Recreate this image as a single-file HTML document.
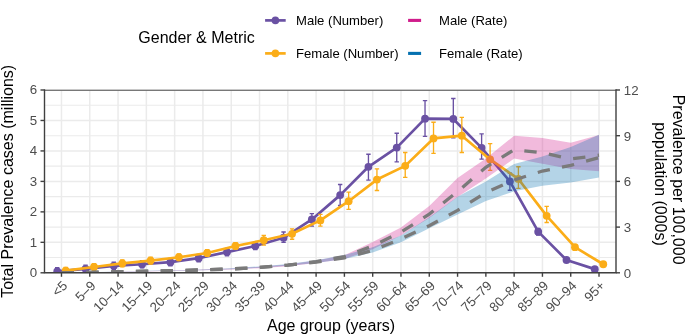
<!DOCTYPE html>
<html><head><meta charset="utf-8"><style>
html,body{margin:0;padding:0;background:#fff;width:685px;height:334px;overflow:hidden}
svg{will-change:transform}
body{position:relative;font-family:"Liberation Sans",sans-serif}
.tk{font-family:"Liberation Sans",sans-serif;font-size:13.3px;fill:#4d4d4d}
.ti{font-family:"Liberation Sans",sans-serif;font-size:16px;fill:#000}
.lg{font-family:"Liberation Sans",sans-serif;font-size:13.1px;fill:#000}
</style></head><body>
<svg width="685" height="334" viewBox="0 0 685 334" style="position:absolute;left:0;top:0">
<defs><clipPath id="pc"><rect x="44.50" y="90.00" width="571.50" height="182.80"/></clipPath></defs>
<g><line x1="44.5" x2="616.0" y1="272.80" y2="272.80" stroke="#ebebeb" stroke-width="1.5"/><line x1="44.5" x2="616.0" y1="257.57" y2="257.57" stroke="#ebebeb" stroke-width="1.1"/><line x1="44.5" x2="616.0" y1="242.33" y2="242.33" stroke="#ebebeb" stroke-width="1.5"/><line x1="44.5" x2="616.0" y1="227.10" y2="227.10" stroke="#ebebeb" stroke-width="1.1"/><line x1="44.5" x2="616.0" y1="211.87" y2="211.87" stroke="#ebebeb" stroke-width="1.5"/><line x1="44.5" x2="616.0" y1="196.63" y2="196.63" stroke="#ebebeb" stroke-width="1.1"/><line x1="44.5" x2="616.0" y1="181.40" y2="181.40" stroke="#ebebeb" stroke-width="1.5"/><line x1="44.5" x2="616.0" y1="166.17" y2="166.17" stroke="#ebebeb" stroke-width="1.1"/><line x1="44.5" x2="616.0" y1="150.93" y2="150.93" stroke="#ebebeb" stroke-width="1.5"/><line x1="44.5" x2="616.0" y1="135.70" y2="135.70" stroke="#ebebeb" stroke-width="1.1"/><line x1="44.5" x2="616.0" y1="120.47" y2="120.47" stroke="#ebebeb" stroke-width="1.5"/><line x1="44.5" x2="616.0" y1="105.23" y2="105.23" stroke="#ebebeb" stroke-width="1.1"/><line x1="44.5" x2="616.0" y1="90.00" y2="90.00" stroke="#ebebeb" stroke-width="1.5"/><line x1="61.48" x2="61.48" y1="90.0" y2="272.8" stroke="#ebebeb" stroke-width="1.5"/><line x1="89.77" x2="89.77" y1="90.0" y2="272.8" stroke="#ebebeb" stroke-width="1.5"/><line x1="118.06" x2="118.06" y1="90.0" y2="272.8" stroke="#ebebeb" stroke-width="1.5"/><line x1="146.35" x2="146.35" y1="90.0" y2="272.8" stroke="#ebebeb" stroke-width="1.5"/><line x1="174.64" x2="174.64" y1="90.0" y2="272.8" stroke="#ebebeb" stroke-width="1.5"/><line x1="202.94" x2="202.94" y1="90.0" y2="272.8" stroke="#ebebeb" stroke-width="1.5"/><line x1="231.23" x2="231.23" y1="90.0" y2="272.8" stroke="#ebebeb" stroke-width="1.5"/><line x1="259.52" x2="259.52" y1="90.0" y2="272.8" stroke="#ebebeb" stroke-width="1.5"/><line x1="287.81" x2="287.81" y1="90.0" y2="272.8" stroke="#ebebeb" stroke-width="1.5"/><line x1="316.10" x2="316.10" y1="90.0" y2="272.8" stroke="#ebebeb" stroke-width="1.5"/><line x1="344.40" x2="344.40" y1="90.0" y2="272.8" stroke="#ebebeb" stroke-width="1.5"/><line x1="372.69" x2="372.69" y1="90.0" y2="272.8" stroke="#ebebeb" stroke-width="1.5"/><line x1="400.98" x2="400.98" y1="90.0" y2="272.8" stroke="#ebebeb" stroke-width="1.5"/><line x1="429.27" x2="429.27" y1="90.0" y2="272.8" stroke="#ebebeb" stroke-width="1.5"/><line x1="457.56" x2="457.56" y1="90.0" y2="272.8" stroke="#ebebeb" stroke-width="1.5"/><line x1="485.86" x2="485.86" y1="90.0" y2="272.8" stroke="#ebebeb" stroke-width="1.5"/><line x1="514.15" x2="514.15" y1="90.0" y2="272.8" stroke="#ebebeb" stroke-width="1.5"/><line x1="542.44" x2="542.44" y1="90.0" y2="272.8" stroke="#ebebeb" stroke-width="1.5"/><line x1="570.73" x2="570.73" y1="90.0" y2="272.8" stroke="#ebebeb" stroke-width="1.5"/><line x1="599.02" x2="599.02" y1="90.0" y2="272.8" stroke="#ebebeb" stroke-width="1.5"/></g>
<g clip-path="url(#pc)"><polyline points="57.23,271.43 85.52,268.84 113.82,265.79 142.11,264.27 170.40,262.14 198.69,258.18 226.98,252.08 255.28,245.99 283.57,237.76 311.86,219.48 340.15,195.11 368.44,166.78 396.74,147.58 425.03,118.64 453.32,118.94 481.61,147.89 509.90,181.40 538.20,231.67 566.49,260.00 594.78,269.14" fill="none" stroke="#6a51a3" stroke-width="2.7" stroke-linejoin="round"/><path d="M55.03,267.77H59.43M57.23,267.77V275.09M55.03,275.09H59.43" stroke="#6a51a3" stroke-width="1.35" fill="none"/><path d="M83.32,265.18H87.72M85.52,265.18V272.50M83.32,272.50H87.72" stroke="#6a51a3" stroke-width="1.35" fill="none"/><path d="M111.62,262.14H116.02M113.82,262.14V269.45M111.62,269.45H116.02" stroke="#6a51a3" stroke-width="1.35" fill="none"/><path d="M139.91,260.61H144.31M142.11,260.61V267.93M139.91,267.93H144.31" stroke="#6a51a3" stroke-width="1.35" fill="none"/><path d="M168.20,258.48H172.60M170.40,258.48V265.79M168.20,265.79H172.60" stroke="#6a51a3" stroke-width="1.35" fill="none"/><path d="M196.49,254.52H200.89M198.69,254.52V261.83M196.49,261.83H200.89" stroke="#6a51a3" stroke-width="1.35" fill="none"/><path d="M224.78,248.43H229.18M226.98,248.43V255.74M224.78,255.74H229.18" stroke="#6a51a3" stroke-width="1.35" fill="none"/><path d="M253.08,242.33H257.48M255.28,242.33V249.65M253.08,249.65H257.48" stroke="#6a51a3" stroke-width="1.35" fill="none"/><path d="M281.37,231.97H285.77M283.57,231.97V242.33M281.37,242.33H285.77" stroke="#6a51a3" stroke-width="1.35" fill="none"/><path d="M309.66,213.69H314.06M311.86,213.69V226.19M309.66,226.19H314.06" stroke="#6a51a3" stroke-width="1.35" fill="none"/><path d="M337.95,184.45H342.35M340.15,184.45V205.47M337.95,205.47H342.35" stroke="#6a51a3" stroke-width="1.35" fill="none"/><path d="M366.24,154.28H370.64M368.44,154.28V180.18M366.24,180.18H370.64" stroke="#6a51a3" stroke-width="1.35" fill="none"/><path d="M394.54,133.26H398.94M396.74,133.26V161.90M394.54,161.90H398.94" stroke="#6a51a3" stroke-width="1.35" fill="none"/><path d="M422.83,100.66H427.23M425.03,100.66V136.31M422.83,136.31H427.23" stroke="#6a51a3" stroke-width="1.35" fill="none"/><path d="M451.12,98.53H455.52M453.32,98.53V137.83M451.12,137.83H455.52" stroke="#6a51a3" stroke-width="1.35" fill="none"/><path d="M479.41,133.87H483.81M481.61,133.87V159.16M479.41,159.16H483.81" stroke="#6a51a3" stroke-width="1.35" fill="none"/><path d="M507.70,173.17H512.10M509.90,173.17V190.24M507.70,190.24H512.10" stroke="#6a51a3" stroke-width="1.35" fill="none"/><path d="M536.00,228.38H540.40M538.20,228.38V234.96M536.00,234.96H540.40" stroke="#6a51a3" stroke-width="1.35" fill="none"/><path d="M564.29,258.98H568.69M566.49,258.98V261.03M564.29,261.03H568.69" stroke="#6a51a3" stroke-width="1.35" fill="none"/><path d="M592.58,268.85H596.98M594.78,268.85V269.44M592.58,269.44H596.98" stroke="#6a51a3" stroke-width="1.35" fill="none"/><circle cx="57.23" cy="271.43" r="3.9" fill="#6a51a3"/><circle cx="85.52" cy="268.84" r="3.9" fill="#6a51a3"/><circle cx="113.82" cy="265.79" r="3.9" fill="#6a51a3"/><circle cx="142.11" cy="264.27" r="3.9" fill="#6a51a3"/><circle cx="170.40" cy="262.14" r="3.9" fill="#6a51a3"/><circle cx="198.69" cy="258.18" r="3.9" fill="#6a51a3"/><circle cx="226.98" cy="252.08" r="3.9" fill="#6a51a3"/><circle cx="255.28" cy="245.99" r="3.9" fill="#6a51a3"/><circle cx="283.57" cy="237.76" r="3.9" fill="#6a51a3"/><circle cx="311.86" cy="219.48" r="3.9" fill="#6a51a3"/><circle cx="340.15" cy="195.11" r="3.9" fill="#6a51a3"/><circle cx="368.44" cy="166.78" r="3.9" fill="#6a51a3"/><circle cx="396.74" cy="147.58" r="3.9" fill="#6a51a3"/><circle cx="425.03" cy="118.64" r="3.9" fill="#6a51a3"/><circle cx="453.32" cy="118.94" r="3.9" fill="#6a51a3"/><circle cx="481.61" cy="147.89" r="3.9" fill="#6a51a3"/><circle cx="509.90" cy="181.40" r="3.9" fill="#6a51a3"/><circle cx="538.20" cy="231.67" r="3.9" fill="#6a51a3"/><circle cx="566.49" cy="260.00" r="3.9" fill="#6a51a3"/><circle cx="594.78" cy="269.14" r="3.9" fill="#6a51a3"/><polyline points="65.72,270.67 94.01,267.01 122.30,263.36 150.60,260.61 178.89,257.26 207.18,253.00 235.47,245.99 263.76,240.20 292.06,233.80 320.35,220.40 348.64,201.20 376.93,179.57 405.22,165.86 433.52,138.44 461.81,135.70 490.10,159.46 518.39,178.96 546.68,215.83 574.98,247.21 603.27,264.27" fill="none" stroke="#fbad18" stroke-width="2.7" stroke-linejoin="round"/><path d="M63.52,267.32H67.92M65.72,267.32V274.02M63.52,274.02H67.92" stroke="#fbad18" stroke-width="1.35" fill="none"/><path d="M91.81,263.66H96.21M94.01,263.66V270.36M91.81,270.36H96.21" stroke="#fbad18" stroke-width="1.35" fill="none"/><path d="M120.10,260.00H124.50M122.30,260.00V266.71M120.10,266.71H124.50" stroke="#fbad18" stroke-width="1.35" fill="none"/><path d="M148.40,257.26H152.80M150.60,257.26V263.96M148.40,263.96H152.80" stroke="#fbad18" stroke-width="1.35" fill="none"/><path d="M176.69,253.91H181.09M178.89,253.91V260.61M176.69,260.61H181.09" stroke="#fbad18" stroke-width="1.35" fill="none"/><path d="M204.98,249.65H209.38M207.18,249.65V256.35M204.98,256.35H209.38" stroke="#fbad18" stroke-width="1.35" fill="none"/><path d="M233.27,242.64H237.67M235.47,242.64V249.34M233.27,249.34H237.67" stroke="#fbad18" stroke-width="1.35" fill="none"/><path d="M261.56,235.33H265.96M263.76,235.33V245.08M261.56,245.08H265.96" stroke="#fbad18" stroke-width="1.35" fill="none"/><path d="M289.86,228.93H294.26M292.06,228.93V239.29M289.86,239.29H294.26" stroke="#fbad18" stroke-width="1.35" fill="none"/><path d="M318.15,214.30H322.55M320.35,214.30V226.19M318.15,226.19H322.55" stroke="#fbad18" stroke-width="1.35" fill="none"/><path d="M346.44,192.06H350.84M348.64,192.06V209.43M346.44,209.43H350.84" stroke="#fbad18" stroke-width="1.35" fill="none"/><path d="M374.73,168.91H379.13M376.93,168.91V190.54M374.73,190.54H379.13" stroke="#fbad18" stroke-width="1.35" fill="none"/><path d="M403.02,152.46H407.42M405.22,152.46V177.44M403.02,177.44H407.42" stroke="#fbad18" stroke-width="1.35" fill="none"/><path d="M431.32,122.29H435.72M433.52,122.29V153.37M431.32,153.37H435.72" stroke="#fbad18" stroke-width="1.35" fill="none"/><path d="M459.61,117.42H464.01M461.81,117.42V152.46M459.61,152.46H464.01" stroke="#fbad18" stroke-width="1.35" fill="none"/><path d="M487.90,143.62H492.30M490.10,143.62V170.43M487.90,170.43H492.30" stroke="#fbad18" stroke-width="1.35" fill="none"/><path d="M516.19,166.78H520.59M518.39,166.78V188.41M516.19,188.41H520.59" stroke="#fbad18" stroke-width="1.35" fill="none"/><path d="M544.48,206.38H548.88M546.68,206.38V222.53M544.48,222.53H548.88" stroke="#fbad18" stroke-width="1.35" fill="none"/><path d="M572.78,245.16H577.18M574.98,245.16V249.26M572.78,249.26H577.18" stroke="#fbad18" stroke-width="1.35" fill="none"/><path d="M601.07,263.59H605.47M603.27,263.59V264.95M601.07,264.95H605.47" stroke="#fbad18" stroke-width="1.35" fill="none"/><circle cx="65.72" cy="270.67" r="3.9" fill="#fbad18"/><circle cx="94.01" cy="267.01" r="3.9" fill="#fbad18"/><circle cx="122.30" cy="263.36" r="3.9" fill="#fbad18"/><circle cx="150.60" cy="260.61" r="3.9" fill="#fbad18"/><circle cx="178.89" cy="257.26" r="3.9" fill="#fbad18"/><circle cx="207.18" cy="253.00" r="3.9" fill="#fbad18"/><circle cx="235.47" cy="245.99" r="3.9" fill="#fbad18"/><circle cx="263.76" cy="240.20" r="3.9" fill="#fbad18"/><circle cx="292.06" cy="233.80" r="3.9" fill="#fbad18"/><circle cx="320.35" cy="220.40" r="3.9" fill="#fbad18"/><circle cx="348.64" cy="201.20" r="3.9" fill="#fbad18"/><circle cx="376.93" cy="179.57" r="3.9" fill="#fbad18"/><circle cx="405.22" cy="165.86" r="3.9" fill="#fbad18"/><circle cx="433.52" cy="138.44" r="3.9" fill="#fbad18"/><circle cx="461.81" cy="135.70" r="3.9" fill="#fbad18"/><circle cx="490.10" cy="159.46" r="3.9" fill="#fbad18"/><circle cx="518.39" cy="178.96" r="3.9" fill="#fbad18"/><circle cx="546.68" cy="215.83" r="3.9" fill="#fbad18"/><circle cx="574.98" cy="247.21" r="3.9" fill="#fbad18"/><circle cx="603.27" cy="264.27" r="3.9" fill="#fbad18"/><polygon points="61.48,272.80 89.77,272.30 118.06,271.63 146.35,270.96 174.64,270.29 202.94,269.62 231.23,268.61 259.52,266.77 287.81,264.42 316.10,260.61 344.40,255.28 372.69,241.88 400.98,227.56 429.27,206.08 457.56,178.05 485.86,158.55 514.15,135.70 542.44,137.99 570.73,142.71 599.02,134.94 599.02,171.35 570.73,168.91 542.44,163.73 514.15,158.55 485.86,178.51 457.56,196.94 429.27,217.96 400.98,235.48 372.69,249.19 344.40,259.09 316.10,263.05 287.81,266.33 259.52,268.14 231.23,269.56 202.94,270.34 174.64,270.86 146.35,271.38 118.06,271.89 89.77,272.41 61.48,272.80" fill="#d01c8b" fill-opacity="0.3"/><polygon points="61.48,272.80 89.77,272.27 118.06,271.55 146.35,270.84 174.64,270.13 202.94,269.41 231.23,268.34 259.52,266.38 287.81,263.89 316.10,260.16 344.40,254.98 372.69,247.21 400.98,235.48 429.27,217.35 457.56,196.63 485.86,181.55 514.15,163.88 542.44,156.42 570.73,146.97 599.02,134.63 599.02,177.59 570.73,182.62 542.44,185.67 514.15,191.30 485.86,200.90 457.56,214.46 429.27,228.32 400.98,242.33 372.69,252.54 344.40,259.09 316.10,263.05 287.81,265.79 259.52,267.75 231.23,269.30 202.94,270.14 174.64,270.70 146.35,271.26 118.06,271.82 89.77,272.38 61.48,272.80" fill="#0571b0" fill-opacity="0.3"/><polyline points="61.48,272.80 89.77,272.34 118.06,271.73 146.35,271.12 174.64,270.51 202.94,269.91 231.23,268.99 259.52,267.32 287.81,265.18 316.10,261.53 344.40,256.50 372.69,245.99 400.98,232.13 429.27,214.15 457.56,191.61 485.86,167.23 514.15,149.71 542.44,152.76 570.73,159.01 599.02,155.20" fill="none" stroke="#7a7a7a" stroke-width="3.3" stroke-dasharray="12.4 12.4"/><polyline points="61.48,272.80 89.77,272.34 118.06,271.73 146.35,271.12 174.64,270.51 202.94,269.91 231.23,268.99 259.52,267.32 287.81,265.18 316.10,262.14 344.40,257.87 372.69,250.41 400.98,238.98 429.27,225.73 457.56,210.34 485.86,192.52 514.15,180.03 542.44,171.04 570.73,165.41 599.02,157.64" fill="none" stroke="#7a7a7a" stroke-width="3.3" stroke-dasharray="12.4 12.4"/></g>
<path d="M44.5,90.2H616.0" stroke="#505050" stroke-width="1.15" fill="none"/><path d="M44.5,89.3V272.8" stroke="#404040" stroke-width="1.4" fill="none"/><path d="M43.8,272.8H616.7" stroke="#404040" stroke-width="1.4" fill="none"/><path d="M616.0,89.3V272.8" stroke="#404040" stroke-width="1.4" fill="none"/><path d="M40.5,272.80H44.5" stroke="#404040" stroke-width="1.4"/><text x="37.20" y="277.25" text-anchor="end" class="tk">0</text><path d="M40.5,242.33H44.5" stroke="#404040" stroke-width="1.4"/><text x="37.20" y="246.78" text-anchor="end" class="tk">1</text><path d="M40.5,211.87H44.5" stroke="#404040" stroke-width="1.4"/><text x="37.20" y="216.32" text-anchor="end" class="tk">2</text><path d="M40.5,181.40H44.5" stroke="#404040" stroke-width="1.4"/><text x="37.20" y="185.85" text-anchor="end" class="tk">3</text><path d="M40.5,150.93H44.5" stroke="#404040" stroke-width="1.4"/><text x="37.20" y="155.38" text-anchor="end" class="tk">4</text><path d="M40.5,120.47H44.5" stroke="#404040" stroke-width="1.4"/><text x="37.20" y="124.92" text-anchor="end" class="tk">5</text><path d="M40.5,90.00H44.5" stroke="#404040" stroke-width="1.4"/><text x="37.20" y="94.45" text-anchor="end" class="tk">6</text><path d="M616.0,272.80H620.0" stroke="#404040" stroke-width="1.4"/><text x="623.80" y="277.80" class="tk">0</text><path d="M616.0,227.10H620.0" stroke="#404040" stroke-width="1.4"/><text x="623.80" y="232.10" class="tk">3</text><path d="M616.0,181.40H620.0" stroke="#404040" stroke-width="1.4"/><text x="623.80" y="186.40" class="tk">6</text><path d="M616.0,135.70H620.0" stroke="#404040" stroke-width="1.4"/><text x="623.80" y="140.70" class="tk">9</text><path d="M616.0,90.00H620.0" stroke="#404040" stroke-width="1.4"/><text x="623.80" y="95.00" class="tk">12</text><path d="M61.48,272.8V276.8" stroke="#404040" stroke-width="1.4"/><text transform="translate(61.68,280.00) rotate(-45)" text-anchor="end" class="tk" dy="0.7em"><5</text><path d="M89.77,272.8V276.8" stroke="#404040" stroke-width="1.4"/><text transform="translate(89.97,280.00) rotate(-45)" text-anchor="end" class="tk" dy="0.7em">5–9</text><path d="M118.06,272.8V276.8" stroke="#404040" stroke-width="1.4"/><text transform="translate(118.26,280.00) rotate(-45)" text-anchor="end" class="tk" dy="0.7em">10–14</text><path d="M146.35,272.8V276.8" stroke="#404040" stroke-width="1.4"/><text transform="translate(146.55,280.00) rotate(-45)" text-anchor="end" class="tk" dy="0.7em">15–19</text><path d="M174.64,272.8V276.8" stroke="#404040" stroke-width="1.4"/><text transform="translate(174.84,280.00) rotate(-45)" text-anchor="end" class="tk" dy="0.7em">20–24</text><path d="M202.94,272.8V276.8" stroke="#404040" stroke-width="1.4"/><text transform="translate(203.14,280.00) rotate(-45)" text-anchor="end" class="tk" dy="0.7em">25–29</text><path d="M231.23,272.8V276.8" stroke="#404040" stroke-width="1.4"/><text transform="translate(231.43,280.00) rotate(-45)" text-anchor="end" class="tk" dy="0.7em">30–34</text><path d="M259.52,272.8V276.8" stroke="#404040" stroke-width="1.4"/><text transform="translate(259.72,280.00) rotate(-45)" text-anchor="end" class="tk" dy="0.7em">35–39</text><path d="M287.81,272.8V276.8" stroke="#404040" stroke-width="1.4"/><text transform="translate(288.01,280.00) rotate(-45)" text-anchor="end" class="tk" dy="0.7em">40–44</text><path d="M316.10,272.8V276.8" stroke="#404040" stroke-width="1.4"/><text transform="translate(316.30,280.00) rotate(-45)" text-anchor="end" class="tk" dy="0.7em">45–49</text><path d="M344.40,272.8V276.8" stroke="#404040" stroke-width="1.4"/><text transform="translate(344.60,280.00) rotate(-45)" text-anchor="end" class="tk" dy="0.7em">50–54</text><path d="M372.69,272.8V276.8" stroke="#404040" stroke-width="1.4"/><text transform="translate(372.89,280.00) rotate(-45)" text-anchor="end" class="tk" dy="0.7em">55–59</text><path d="M400.98,272.8V276.8" stroke="#404040" stroke-width="1.4"/><text transform="translate(401.18,280.00) rotate(-45)" text-anchor="end" class="tk" dy="0.7em">60–64</text><path d="M429.27,272.8V276.8" stroke="#404040" stroke-width="1.4"/><text transform="translate(429.47,280.00) rotate(-45)" text-anchor="end" class="tk" dy="0.7em">65–69</text><path d="M457.56,272.8V276.8" stroke="#404040" stroke-width="1.4"/><text transform="translate(457.76,280.00) rotate(-45)" text-anchor="end" class="tk" dy="0.7em">70–74</text><path d="M485.86,272.8V276.8" stroke="#404040" stroke-width="1.4"/><text transform="translate(486.06,280.00) rotate(-45)" text-anchor="end" class="tk" dy="0.7em">75–79</text><path d="M514.15,272.8V276.8" stroke="#404040" stroke-width="1.4"/><text transform="translate(514.35,280.00) rotate(-45)" text-anchor="end" class="tk" dy="0.7em">80–84</text><path d="M542.44,272.8V276.8" stroke="#404040" stroke-width="1.4"/><text transform="translate(542.64,280.00) rotate(-45)" text-anchor="end" class="tk" dy="0.7em">85–89</text><path d="M570.73,272.8V276.8" stroke="#404040" stroke-width="1.4"/><text transform="translate(570.93,280.00) rotate(-45)" text-anchor="end" class="tk" dy="0.7em">90–94</text><path d="M599.02,272.8V276.8" stroke="#404040" stroke-width="1.4"/><text transform="translate(599.22,280.00) rotate(-45)" text-anchor="end" class="tk" dy="0.7em">95+</text>
<text x="331" y="331" text-anchor="middle" class="ti">Age group (years)</text>
<text transform="translate(13,181.3) rotate(-90)" text-anchor="middle" class="ti">Total Prevalence cases (millions)</text>
<text transform="translate(672.8,179.6) rotate(90)" text-anchor="middle" class="ti">Prevalence per 100,000</text>
<text transform="translate(655,184) rotate(90)" text-anchor="middle" class="ti">population (000s)</text>
<text x="138.3" y="42.9" class="ti">Gender &amp; Metric</text>
<path d="M265.1,20.4H285.70000000000005" stroke="#6a51a3" stroke-width="2.7"/><circle cx="275.40000000000003" cy="20.4" r="3.8" fill="#6a51a3"/>
<path d="M265.1,53.4H285.70000000000005" stroke="#fbad18" stroke-width="2.7"/><circle cx="275.40000000000003" cy="53.4" r="3.8" fill="#fbad18"/>
<path d="M408.1,20.4H421.1" stroke="#d01c8b" stroke-width="3.1"/>
<path d="M408.1,53.4H421.1" stroke="#0571b0" stroke-width="3.1"/>
<text x="296" y="24.9" class="lg">Male (Number)</text>
<text x="296" y="57.9" class="lg">Female (Number)</text>
<text x="439" y="24.9" class="lg">Male (Rate)</text>
<text x="439" y="57.9" class="lg">Female (Rate)</text>
</svg>
</body></html>
